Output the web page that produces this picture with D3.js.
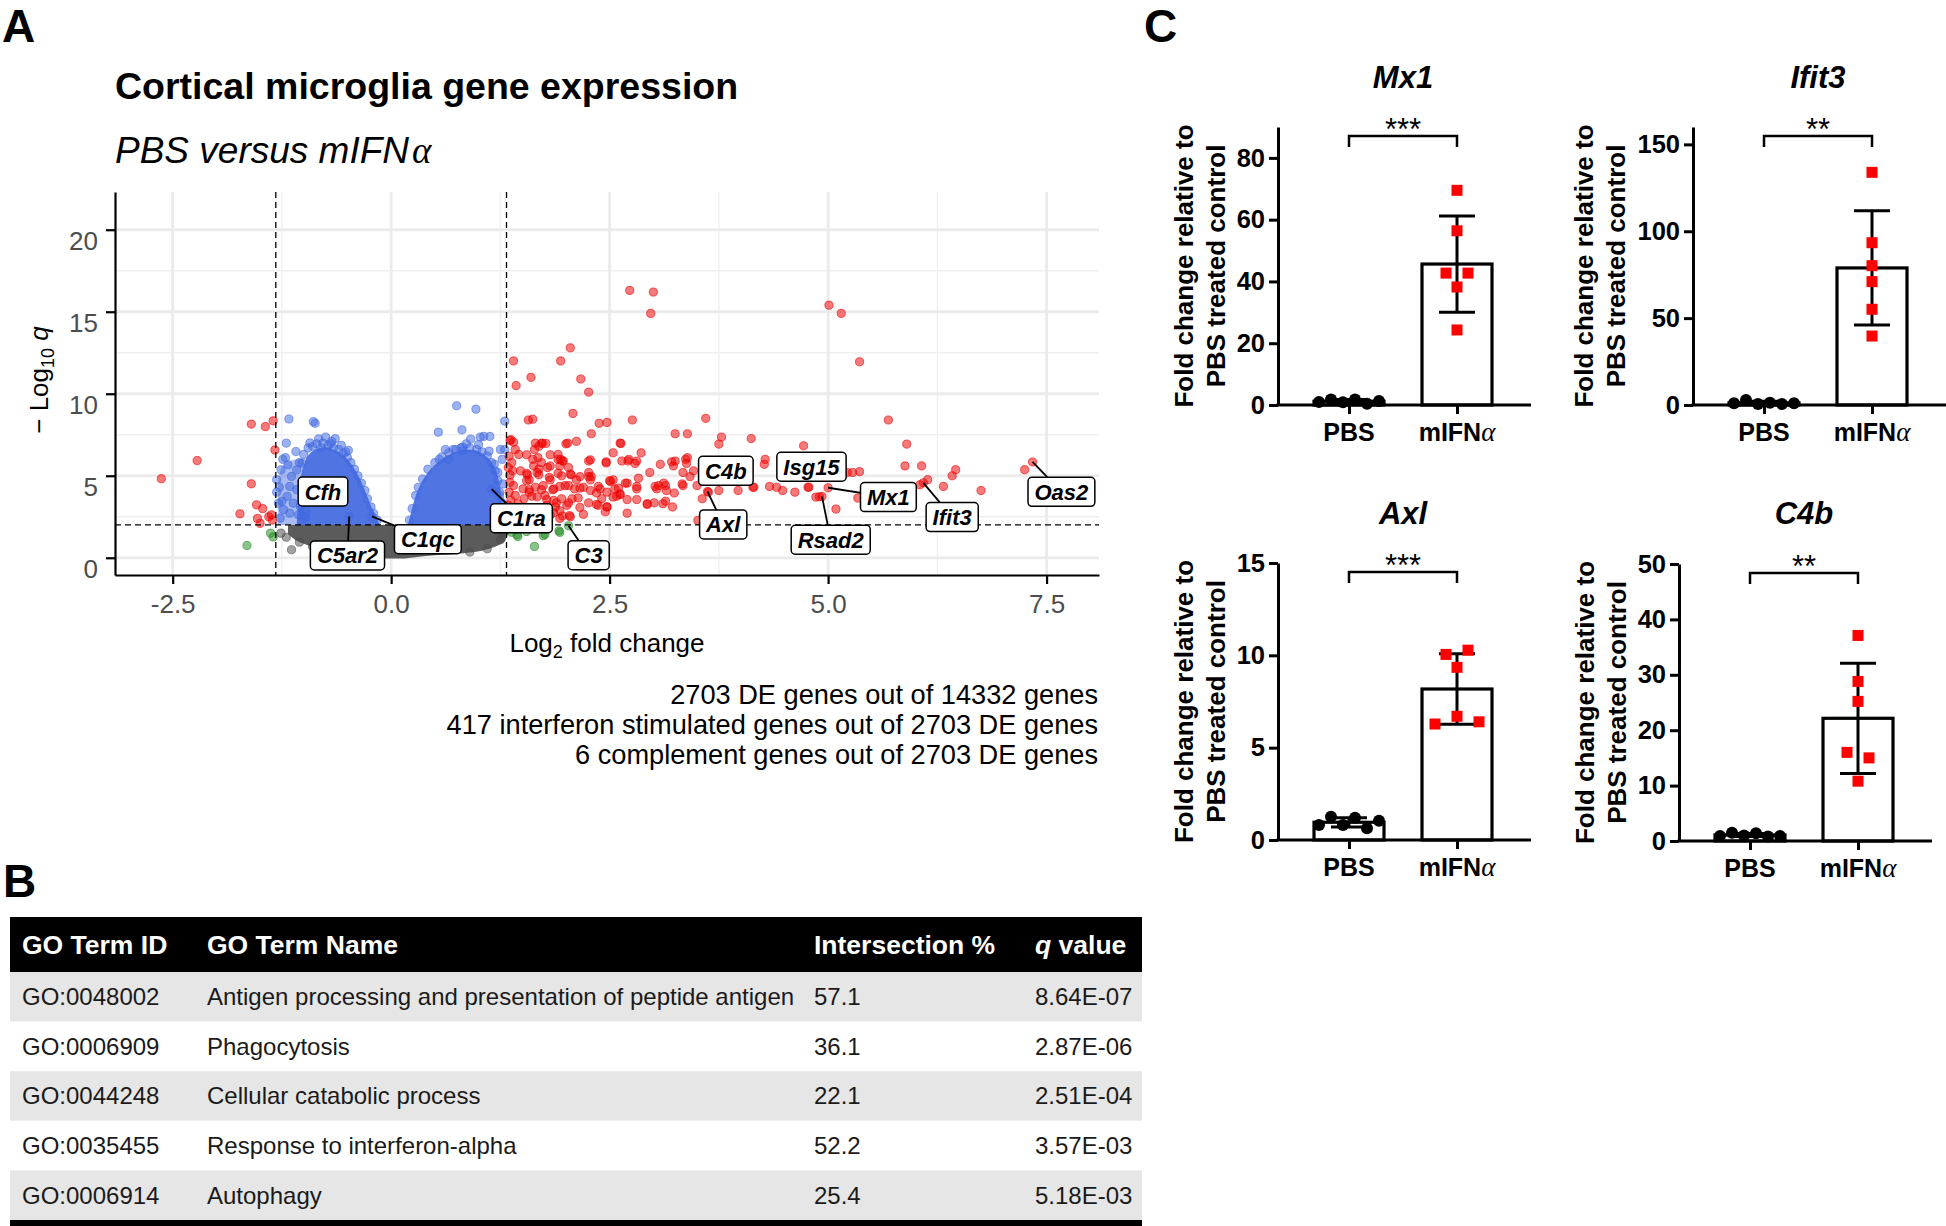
<!DOCTYPE html>
<html><head><meta charset="utf-8">
<script src="https://cdn.jsdelivr.net/npm/d3@7"></script>
<style>
html,body{margin:0;padding:0;background:#fff;}
svg{display:block;}
</style></head><body>
<script>
// ---------------- DATA ----------------
// Panel A: volcano points [log2 fold change, -log10 q]
const redGenes = [
[-2.63,4.82],[-2.22,5.93],[-1.60,8.15],[-1.44,8.0],[-1.35,8.35],[-1.33,6.57],[-1.60,4.51],[-1.54,3.23],[-1.47,3.0],[-1.73,2.68],[-1.53,2.4],[-1.40,2.5],[-1.37,2.62],[-1.50,2.1],[-1.36,2.3],
[2.73,16.3],[3.0,16.2],[2.97,14.9],[5.01,15.4],[5.15,14.9],[5.36,11.95],[2.05,12.8],[1.40,12.0],[1.94,12.0],[1.60,11.0],[2.17,10.9],[1.43,10.5],[2.26,10.1],[2.08,8.8],[1.57,8.4],[1.62,8.45],[2.38,8.2],[2.47,8.25],[2.76,8.4],[3.60,8.5],[5.69,8.4],
[2.29,7.56],[3.25,7.56],[3.39,7.56],[3.78,7.36],[3.75,6.93],[4.12,7.27],[4.72,6.83],[5.90,6.93],[2.12,7.1],[2.0,6.95],[2.63,6.97],[1.72,6.97],[1.77,6.97],[1.37,7.2],[1.36,7.15],[1.40,7.05],[1.65,6.99],[1.73,6.99],[1.69,6.8],[2.02,6.99],[2.62,6.99],
[1.42,6.6],[1.46,6.3],[1.64,6.6],[1.91,6.3],[1.55,6.28],[1.82,6.28],[1.68,6.1],[1.62,6.0],[1.91,6.0],[1.96,5.9],[2.54,6.4],[2.86,6.4],[3.39,6.1],[3.37,6.0],[4.28,6.0],[4.27,5.7],[1.94,6.0],[1.97,5.9],[2.28,5.97],[2.26,5.9],[2.46,5.85],[2.64,5.9],[2.72,6.0],[2.71,5.9],[2.81,5.9],[2.79,5.75],[3.08,5.7],[3.23,5.6],[3.25,5.9],[1.72,5.8],[1.63,5.6],[1.82,5.6],[1.93,5.6],[2.03,5.5],[1.79,5.5],[2.46,5.78],[3.21,5.85],[3.38,5.75],
[1.69,5.4],[1.39,5.3],[1.36,5.05],[1.55,5.15],[1.67,5.2],[1.81,4.9],[1.95,5.0],[2.05,5.1],[2.16,4.95],[2.26,5.2],[2.29,4.95],[2.50,4.7],[2.54,4.75],[2.68,4.55],[2.83,4.85],[2.96,5.2],[3.34,5.2],[3.46,5.3],[3.71,5.14],[1.56,5.06],[1.58,4.75],[1.69,5.06],[1.82,4.75],[1.91,5.15],[2.06,5.06],[2.12,4.75],[2.26,4.95],[2.28,4.75],[2.51,4.65],[2.70,4.55],[5.22,5.2],[5.28,5.2],[5.36,5.25],[5.88,5.6],[6.07,5.6],[6.46,5.37],[6.42,5.0],[7.25,5.37],[6.14,4.76],[3.02,4.35],[3.12,4.55],[3.33,4.5],[4.71,5.1],
[1.51,4.2],[1.65,4.3],[1.74,4.4],[1.86,4.2],[1.99,4.4],[2.1,4.2],[2.2,4.3],[2.28,4.1],[2.39,4.2],[2.47,4.0],[2.56,4.2],[2.62,3.9],[2.81,4.2],[3.04,4.2],[3.15,4.1],[3.63,4.0],[3.75,4.1],[3.97,4.1],[4.14,4.3],[4.33,4.35],[4.41,4.3],[4.48,4.1],[4.62,4.0],[4.77,4.3],[1.58,4.15],[1.72,4.15],[1.85,4.15],[1.93,4.35],[2.03,4.4],[2.16,4.25],[2.37,4.35],[2.60,4.25],[2.81,4.35],[2.35,3.95],[2.62,3.85],[6.05,4.45],[6.32,4.35],[6.75,4.1],[4.78,4.3],[4.15,4.3],[3.06,4.4],[3.14,4.4],[3.56,3.6],
[3.65,4.8],[3.78,4.85],[3.5,4.4],[3.42,4.95],[3.34,4.4],[3.24,3.95],
[1.61,3.75],[1.78,3.55],[1.89,3.35],[2.03,3.35],[2.14,3.65],[2.26,3.35],[2.35,3.25],[2.47,3.1],[2.58,3.75],[2.70,3.55],[2.81,3.55],[2.93,3.25],[3.01,3.35],[3.14,3.45],[3.22,3.1],[1.67,3.72],[1.76,3.8],[1.86,3.5],[1.95,3.6],[2.07,3.6],[2.41,3.6],[2.54,3.7],[1.78,3.2],[1.88,3.1],[2.01,3.2],[2.16,3.07],[2.37,3.2],[2.47,3.1],[5.34,3.64],[4.86,3.7],[4.90,3.72],[3.11,3.3],[2.93,3.3],
[2.70,2.72],[2.05,2.5],[1.93,2.4],[1.82,2.6],[1.70,2.9],[1.55,2.7],[1.48,2.4],[1.93,2.87],[2.04,2.57],[1.96,2.55],[1.86,2.75],[3.51,2.28],[5.09,2.97],[2.20,2.65],[2.45,2.8],
[1.35,6.2],[1.38,5.8],[1.34,5.5],[1.36,4.6],[1.40,4.4],[1.35,4.0],[1.42,3.8],[1.37,3.5],[1.45,3.3],[1.40,3.0],[1.48,2.9],[1.50,2.5],[1.55,2.3],[1.62,2.2],[1.45,2.6],[1.52,3.6],[1.58,4.0],[1.55,4.7],[1.48,5.3],[1.36,2.7],[1.34,3.2]
];
const blueGenes = [
[-1.17,8.46],[-0.89,8.3],[-0.87,8.2],[-0.75,7.36],[-0.69,6.95],[-0.64,7.26],[-1.20,6.99],[-1.09,6.48],[-1.21,6.1],[-1.24,6.0],[-0.49,6.55],[-0.52,6.45],[-1.26,5.36],[-1.28,4.3],[-1.31,4.0],
[-1.16,4.35],[-1.08,4.15],[-1.19,3.74],[-1.25,3.44],[-1.12,3.33],[-1.04,3.13],[-1.23,2.93],[-1.16,2.72],[-1.06,2.62],[-0.98,2.42],[-1.27,2.42],[-1.08,5.36],[-1.02,5.77],[-1.14,4.96],[-1.18,5.67],[-1.31,4.76],[-1.29,3.33],[-0.97,2.82],[-1.0,2.52],
[-1.0,6.3],[-0.95,6.7],[-0.9,6.8],[-0.85,6.95],[-0.8,6.7],[-0.78,7.0],[-0.72,6.85],[-0.68,7.1],[-0.66,6.7],[-0.6,6.6],[-0.57,6.85],[-0.55,6.35],[-0.5,6.1],[-0.46,5.8],[-0.42,5.4],[-0.38,5.0],[-0.34,4.55],[-0.3,4.1],[-0.27,3.6],[-0.23,3.1],[-0.2,2.7],[-0.16,2.3],[-1.05,5.8],[-0.93,7.0],[-0.83,7.25],
[0.75,9.27],[0.97,9.06],[1.30,8.33],[0.54,7.66],[0.81,7.8],[0.91,7.24],[1.02,7.36],[1.06,7.4],[1.13,7.4],[0.71,6.6],[0.80,6.7],[0.82,6.5],[1.25,6.6],[1.30,6.6],[0.55,6.0],[0.66,6.0],[1.22,5.2],[1.28,4.5],[1.24,3.8],[1.27,3.3],[1.18,5.7],[1.27,6.0],[1.30,2.8],[1.29,2.3],
[0.21,2.3],[0.24,3.0],[0.28,3.8],[0.31,4.3],[0.36,4.8],[0.42,5.4],[0.5,5.8],[0.58,6.15],[0.66,6.4],[0.74,6.6],[0.82,6.75],[0.9,6.7],[0.98,6.6],[1.04,6.45],[1.1,6.2],[1.15,5.8],[1.19,5.3],[1.22,4.7],[1.26,3.4],[1.24,4.0],[0.62,6.6],[0.86,6.95],[1.0,6.9],[1.12,6.5]
];
const greenGenes = [[1.44,1.40],[1.76,1.43],[1.92,1.64],[1.64,0.69],[1.55,1.6],[1.38,1.55],[1.45,1.3],[1.74,1.35],[1.93,1.55],[-1.65,0.75],[-1.38,1.5],[-1.35,1.27]];
const greyGenes = [[-1.26,1.5],[-1.14,0.49],[-1.2,1.25],[-1.05,0.95],[-0.9,0.7],[0.9,0.35],[1.1,0.55],[1.28,1.4],[1.25,1.1],[1.3,1.6]];
// dense clouds: [log2FC, lower -log10 q, upper -log10 q]
const greyCloud = [[-1.18,1.45,1.98],[-1.1,1.1,2.0],[-1.0,0.85,2.0],[-0.8,0.55,2.0],[-0.6,0.35,2.0],[-0.4,0.2,2.0],[-0.2,0.05,2.0],[-0.05,-0.05,2.0],[0.1,-0.05,2.0],[0.3,0.05,2.0],[0.5,0.15,2.0],[0.7,0.22,2.0],[0.9,0.32,2.0],[1.05,0.45,2.0],[1.18,0.65,2.0],[1.26,0.85,2.0],[1.31,1.05,1.95]];
const blueSparseLeft = [[-1.3,2.0,2.0],[-1.29,2.0,4.8],[-1.24,2.0,5.6],[-1.16,2.0,5.9],[-1.07,2.0,6.0],[-1.0,2.0,6.0]];
const blueCloudLeft = [[-1.08,2.0,2.0],[-1.07,2.0,3.0],[-1.04,2.0,4.6],[-0.99,2.0,5.8],[-0.93,2.0,6.35],[-0.85,2.0,6.65],[-0.76,2.0,6.75],[-0.66,2.0,6.6],[-0.57,2.0,6.35],[-0.5,2.0,6.0],[-0.43,2.0,5.5],[-0.36,2.0,4.85],[-0.3,2.0,4.1],[-0.24,2.0,3.3],[-0.18,2.0,2.6],[-0.13,2.0,2.0]];
const blueCloudRight = [[0.19,2.0,2.0],[0.22,2.0,2.6],[0.27,2.0,3.6],[0.33,2.0,4.4],[0.42,2.0,5.2],[0.52,2.0,5.75],[0.64,2.0,6.2],[0.76,2.0,6.5],[0.86,2.0,6.6],[0.96,2.0,6.55],[1.06,2.0,6.3],[1.14,2.0,5.9],[1.2,2.0,5.3],[1.24,2.0,4.5],[1.27,2.0,3.4],[1.29,2.0,2.0]];
// labelled genes
const labelGenes = ["Cfh","C5ar2","C1qc","C1ra","C3","C4b","Axl","Isg15","Mx1","Rsad2","Ifit3","Oas2"];
const labelLfc   = [-0.80,-0.48,-0.22,1.15,2.03,3.84,3.62,4.82,5.00,4.93,6.09,7.34];
const labelQ     = [4.0,2.52,2.52,4.19,1.95,5.35,4.04,5.55,4.27,3.74,4.57,5.84];
const volcanoXTicks = [-2.5,0,2.5,5,7.5];
const volcanoYTicks = [0,5,10,15,20];
const captionLines = ["2703 DE genes out of 14332 genes","417 interferon stimulated genes out of 2703 DE genes","6 complement genes out of 2703 DE genes"];

// Panel B: GO table
const goHeaders = ["GO Term ID","GO Term Name","Intersection %","q value"];
const goIds = ["GO:0048002","GO:0006909","GO:0044248","GO:0035455","GO:0006914"];
const goNames = ["Antigen processing and presentation of peptide antigen","Phagocytosis","Cellular catabolic process","Response to interferon-alpha","Autophagy"];
const goIntersection = [57.1,36.1,22.1,52.2,25.4];
const goQ = ["8.64E-07","2.87E-06","2.51E-04","3.57E-03","5.18E-03"];

// Panel C: qPCR
const qpcrGenes = ["Mx1","Ifit3","Axl","C4b"];
const qpcrGroups = ["PBS","mIFNα"];
const pbsFold = [[1.0,1.8,0.9,1.8,0.4,1.3],[1.0,2.9,0.6,1.3,0.6,1.0],[0.81,1.26,0.81,1.21,0.63,1.04],[0.9,1.5,1.0,1.4,0.8,0.9]];
const ifnFold = [[69.5,56.4,42.7,42.7,38.2,24.3],[133.9,93.4,80.2,71.0,55.1,39.7],[6.28,6.7,6.4,9.35,10.05,10.28],[37.1,28.8,25.2,16.0,15.0,10.8]];
const qpcrMax = [90,160,15,50];
const qpcrTicks = [[0,20,40,60,80],[0,50,100,150],[0,5,10,15],[0,10,20,30,40,50]];
const qpcrStars = ["***","**","***","**"];

// ---------------- LAYOUT / STYLE ----------------
const FONT = '"Liberation Sans", Arial, Helvetica, sans-serif';
const FC_CUT = 1.32, Q_CUT = 2;
const COL = {red:'#EE0000', blue:'#4169E1', green:'#228B22', grey:'#4D4D4D'};
// ggrepel label box centres (layout), data units
const labelBoxLfc = [-0.78,-0.50,0.42,1.49,2.26,3.83,3.80,4.81,5.69,5.03,6.42,7.67];
const labelBoxQ   = [4.04,0.14,1.13,2.41,0.16,5.30,2.03,5.55,3.70,1.10,2.48,4.02];

const svg = d3.select('body').append('svg').attr('width',1946).attr('height',1226)
  .attr('font-family',FONT);

// panel letters
[["A",2,42],["B",3,897],["C",1144,42]].forEach(([t,x,y])=>{
  svg.append('text').attr('x',x).attr('y',y).attr('font-size',46).attr('font-weight','bold').text(t);
});

function styleAxis(g,o){
  g.attr('font-family',FONT).attr('font-size',o.fs);
  g.select('.domain').attr('stroke','#000').attr('stroke-width',o.sw);
  g.selectAll('.tick line').attr('stroke','#000').attr('stroke-width',o.sw);
  g.selectAll('.tick text').attr('fill',o.col).attr('font-weight',o.fw);
}

// ---------------- PANEL A ----------------
const vx = d3.scaleLinear().domain([-3.16,8.1]).range([115,1099]);
const vy = d3.scaleLinear().domain([-1.05,22.3]).range([575,192]);
const gA = svg.append('g');

gA.append('text').attr('x',115).attr('y',99).attr('font-size',37.5).attr('font-weight','bold').text('Cortical microglia gene expression');
const sub = gA.append('text').attr('x',115).attr('y',163).attr('font-size',37).attr('font-style','italic');
sub.append('tspan').text('PBS versus mIFN');
sub.append('tspan').attr('font-family','"Liberation Serif", serif').attr('dx',3).text('α');

const [x0,x1] = vx.range(), [yb,yt] = vy.range();
// gridlines
const minorX=[-1.25,1.25,3.75,6.25], minorY=[2.5,7.5,12.5,17.5];
gA.selectAll('.mnx').data(minorX).join('line').attr('x1',d=>vx(d)).attr('x2',d=>vx(d)).attr('y1',yt).attr('y2',yb).attr('stroke','#f0f0f0').attr('stroke-width',1.4);
gA.selectAll('.mny').data(minorY).join('line').attr('x1',x0).attr('x2',x1).attr('y1',d=>vy(d)).attr('y2',d=>vy(d)).attr('stroke','#f0f0f0').attr('stroke-width',1.4);
gA.selectAll('.mjx').data(volcanoXTicks).join('line').attr('x1',d=>vx(d)).attr('x2',d=>vx(d)).attr('y1',yt).attr('y2',yb).attr('stroke','#ebebeb').attr('stroke-width',2.8);
gA.selectAll('.mjy').data(volcanoYTicks).join('line').attr('x1',x0).attr('x2',x1).attr('y1',d=>vy(d)).attr('y2',d=>vy(d)).attr('stroke','#ebebeb').attr('stroke-width',2.8);

const cloudArea = d3.area().x(d=>vx(d[0])).y0(d=>vy(d[1])).y1(d=>vy(d[2])).curve(d3.curveMonotoneX);
gA.append('path').datum(greyCloud).attr('d',cloudArea).attr('fill',COL.grey).attr('fill-opacity',0.92);
gA.append('path').datum(blueSparseLeft).attr('d',cloudArea).attr('fill',COL.blue).attr('fill-opacity',0.45);
gA.append('path').datum(blueCloudLeft).attr('d',cloudArea).attr('fill',COL.blue).attr('fill-opacity',0.92);
gA.append('path').datum(blueCloudRight).attr('d',cloudArea).attr('fill',COL.blue).attr('fill-opacity',0.92);

const colorOf = d => (Math.abs(d[0])>FC_CUT && d[1]>Q_CUT) ? COL.red : (Math.abs(d[0])>FC_CUT ? COL.green : (d[1]>Q_CUT ? COL.blue : COL.grey));
const labelPts = labelGenes.map((g,i)=>[labelLfc[i],labelQ[i]]);
const allPts = [...greyGenes, ...blueGenes, ...greenGenes, ...redGenes, ...labelPts];
gA.append('g').selectAll('circle').data(allPts).join('circle')
  .attr('cx',d=>vx(d[0])).attr('cy',d=>vy(d[1])).attr('r',4.1)
  .attr('fill',d=>colorOf(d)).attr('fill-opacity',0.52)
  .attr('stroke',d=>colorOf(d)).attr('stroke-opacity',0.6).attr('stroke-width',1);

// cutoff lines
[-FC_CUT,FC_CUT].forEach(v=>gA.append('line').attr('x1',vx(v)).attr('x2',vx(v)).attr('y1',yt).attr('y2',yb).attr('stroke','#000').attr('stroke-width',1.3).attr('stroke-dasharray','6,4'));
gA.append('line').attr('x1',x0).attr('x2',x1).attr('y1',vy(Q_CUT)).attr('y2',vy(Q_CUT)).attr('stroke','#000').attr('stroke-width',1.3).attr('stroke-dasharray','6,4');

// axes
const gyA = gA.append('g').attr('transform',`translate(${x0},0)`)
  .call(d3.axisLeft(vy).tickValues(volcanoYTicks).tickSize(9).tickSizeOuter(0).tickPadding(8))
  .call(styleAxis,{fs:26,col:'#4d4d4d',fw:'normal',sw:2.2});
gyA.selectAll('.tick text').attr('transform','translate(0,11)');
gA.append('g').attr('transform',`translate(0,${yb})`)
  .call(d3.axisBottom(vx).tickValues(volcanoXTicks).tickFormat(d=>d.toFixed(1)).tickSize(9).tickSizeOuter(0).tickPadding(11))
  .call(styleAxis,{fs:26,col:'#4d4d4d',fw:'normal',sw:2.2});

const xt = gA.append('text').attr('x',(x0+x1)/2).attr('y',652).attr('text-anchor','middle').attr('font-size',26);
xt.append('tspan').text('Log');
xt.append('tspan').attr('font-size',18).attr('dy',6).text('2');
xt.append('tspan').attr('dy',-6).text(' fold change');
const yl = gA.append('text').attr('transform','translate(48,380) rotate(-90)').attr('text-anchor','middle').attr('font-size',26);
yl.append('tspan').text('− Log');
yl.append('tspan').attr('font-size',18).attr('dy',6).text('10');
yl.append('tspan').attr('dy',-6).text(' ');
yl.append('tspan').attr('font-style','italic').text('q');

// labels
const gLab = gA.append('g');
labelGenes.forEach((name,i)=>{
  const px=vx(labelLfc[i]), py=vy(labelQ[i]), bx=vx(labelBoxLfc[i]), by=vy(labelBoxQ[i]);
  gLab.append('line').attr('x1',px).attr('y1',py).attr('x2',bx).attr('y2',by).attr('stroke','#000').attr('stroke-width',1.8);
  const box = gLab.append('rect');
  const t = gLab.append('text').attr('x',bx).attr('y',by+8).attr('text-anchor','middle')
    .attr('font-size',22).attr('font-weight','bold').attr('font-style','italic').text(name);
  const w = t.node().getComputedTextLength()+13;
  box.attr('x',bx-w/2).attr('y',by-14.5).attr('width',w).attr('height',29).attr('rx',4)
    .attr('fill','#fff').attr('stroke','#000').attr('stroke-width',1.5);
});

gA.selectAll('.cap').data(captionLines).join('text').attr('x',1098).attr('y',(d,i)=>704+i*30)
  .attr('text-anchor','end').attr('font-size',27.2).text(d=>d);

// ---------------- PANEL B ----------------
const gB = svg.append('g');
const tabX=10, tabW=1132, headY=917, headH=55, rowH=49.6;
const colX=[22,207,814,1035];
gB.append('rect').attr('x',tabX).attr('y',headY).attr('width',tabW).attr('height',headH).attr('fill','#000');
goHeaders.forEach((h,j)=>{
  const t=gB.append('text').attr('x',colX[j]).attr('y',headY+headH/2+9.5).attr('fill','#fff').attr('font-size',26.5).attr('font-weight','bold');
  if(h==='q value'){ t.append('tspan').attr('font-style','italic').text('q'); t.append('tspan').text(' value'); }
  else t.text(h);
});
const rows = goIds.map((id,i)=>[id,goNames[i],goIntersection[i].toFixed(1),goQ[i]]);
const rg = gB.selectAll('.row').data(rows).join('g').attr('transform',(d,i)=>`translate(0,${headY+headH+i*rowH})`);
rg.append('rect').attr('x',tabX).attr('y',0).attr('width',tabW).attr('height',rowH).attr('fill',(d,i)=>i%2===0?'#e6e6e6':'#fff');
rg.selectAll('text').data(d=>d).join('text').attr('x',(d,j)=>colX[j]).attr('y',rowH/2+8.5).attr('font-size',24).attr('fill','#1a1a1a').text(d=>d);
gB.append('rect').attr('x',tabX).attr('y',headY+headH+5*rowH).attr('width',tabW).attr('height',6).attr('fill','#000');

// ---------------- PANEL C ----------------
const barLayout = [{ax:1278,y0:405,yTop:127,titleY:88},{ax:1693,y0:405,yTop:127,titleY:88},{ax:1278,y0:840,yTop:563,titleY:524},{ax:1679,y0:841,yTop:564,titleY:524}];
function spread(vals,y,step){
  const px = vals.map(v=>y(v));
  const order = d3.range(vals.length).sort((a,b)=>px[a]-px[b]);
  const clusters=[]; let cur=[order[0]];
  for(let k=1;k<order.length;k++){
    if(Math.abs(px[order[k]]-px[order[k-1]])<12) cur.push(order[k]); else {clusters.push(cur); cur=[order[k]];}
  }
  clusters.push(cur);
  const off = new Array(vals.length).fill(0);
  clusters.forEach(c=>{ c.sort((a,b)=>a-b); c.forEach((idx,j)=>off[idx]=(j-(c.length-1)/2)*step); });
  return off;
}
qpcrGenes.forEach((gene,i)=>{
  const L = barLayout[i];
  const g = svg.append('g');
  const y = d3.scaleLinear().domain([0,qpcrMax[i]]).range([L.y0,L.yTop]);
  const x = d3.scalePoint().domain(qpcrGroups).range([L.ax+71,L.ax+179]);
  const groups = [pbsFold[i], ifnFold[i]];
  groups.forEach((vals,k)=>{
    const m = d3.mean(vals);
    g.append('rect').attr('x',x(qpcrGroups[k])-35).attr('y',y(m)).attr('width',70).attr('height',y(0)-y(m))
      .attr('fill','#fff').attr('stroke','#000').attr('stroke-width',3.2);
  });
  const ga = g.append('g').attr('transform',`translate(${L.ax},0)`)
    .call(d3.axisLeft(y).tickValues(qpcrTicks[i]).tickSize(9).tickSizeOuter(0).tickPadding(4))
    .call(styleAxis,{fs:25.5,col:'#000',fw:'bold',sw:3});
  g.append('line').attr('x1',L.ax-1.5).attr('x2',L.ax+253).attr('y1',L.y0).attr('y2',L.y0).attr('stroke','#000').attr('stroke-width',3);
  const gx = g.append('g').attr('transform',`translate(0,${L.y0})`)
    .call(d3.axisBottom(x).tickSize(9).tickSizeOuter(0).tickFormat(()=>''));
  gx.select('.domain').remove();
  gx.selectAll('.tick line').attr('stroke','#000').attr('stroke-width',3);
  qpcrGroups.forEach(gr=>{
    const t = g.append('text').attr('x',x(gr)).attr('y',L.y0+36).attr('text-anchor','middle').attr('font-size',25).attr('font-weight','bold');
    if(gr==='mIFNα'){ t.append('tspan').text('mIFN'); t.append('tspan').attr('font-weight','normal').attr('font-style','italic').attr('font-family','"Liberation Serif", serif').attr('font-size',27).text('α'); }
    else t.text(gr);
  });
  groups.forEach((vals,k)=>{
    const m=d3.mean(vals), s=d3.deviation(vals), cx=x(qpcrGroups[k]);
    g.append('line').attr('x1',cx).attr('x2',cx).attr('y1',y(m-s)).attr('y2',y(m+s)).attr('stroke','#000').attr('stroke-width',3);
    [m-s,m+s].forEach(v=>g.append('line').attr('x1',cx-18).attr('x2',cx+18).attr('y1',y(v)).attr('y2',y(v)).attr('stroke','#000').attr('stroke-width',3));
  });
  const offP = spread(pbsFold[i],y,12);
  g.selectAll('.pp').data(pbsFold[i]).join('circle').attr('cx',(d,j)=>x('PBS')+offP[j]).attr('cy',d=>y(d)).attr('r',6).attr('fill','#000');
  const offI = spread(ifnFold[i],y,22);
  g.selectAll('.pi').data(ifnFold[i]).join('rect').attr('x',(d,j)=>x('mIFNα')+offI[j]-5.5).attr('y',d=>y(d)-5.5).attr('width',11).attr('height',11).attr('fill','#ff0000');
  const by = L.yTop+9, xa=x('PBS'), xb=x('mIFNα');
  g.append('path').attr('d',`M${xa},${by+11}V${by}H${xb}V${by+11}`).attr('fill','none').attr('stroke','#000').attr('stroke-width',2.5);
  g.append('text').attr('x',(xa+xb)/2).attr('y',by+4).attr('text-anchor','middle').attr('font-size',31).text(qpcrStars[i]);
  g.append('text').attr('x',(xa+xb)/2).attr('y',L.titleY).attr('text-anchor','middle').attr('font-size',31)
    .attr('font-weight','bold').attr('font-style','italic').text(gene);
  const bb = ga.node().getBBox();
  const left = L.ax + bb.x;
  const cy = (L.y0+L.yTop)/2;
  [["Fold change relative to",-53],["PBS treated control",-21]].forEach(([s,dx])=>{
    g.append('text').attr('transform',`translate(${left+dx},${cy}) rotate(-90)`).attr('text-anchor','middle')
      .attr('dominant-baseline','central').attr('font-size',26).attr('font-weight','bold').text(s);
  });
});
</script>
</body></html>
